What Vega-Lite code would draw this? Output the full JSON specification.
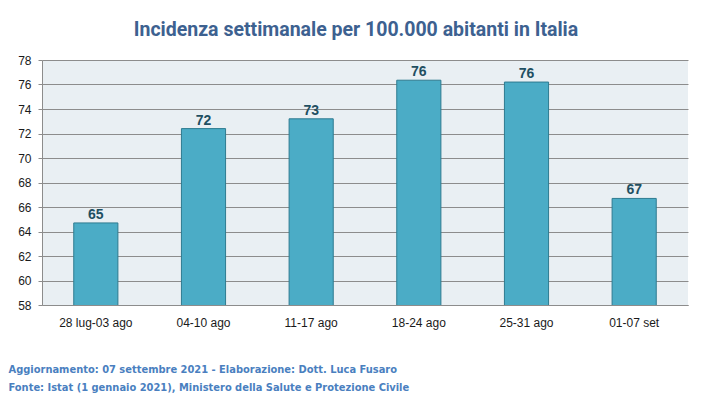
{
  "$schema": "https://vega.github.io/schema/vega-lite/v6.json",
  "width": 646,
  "height": 245,
  "autosize": {"type": "none"},
  "padding": {"left": 42, "top": 60, "right": 23, "bottom": 93},
  "background": "#ffffff",
  "title": {
    "text": "Incidenza settimanale per 100.000 abitanti in Italia",
    "font": "Roboto",
    "fontSize": 19.5,
    "fontWeight": "bold",
    "color": "#3d6190",
    "anchor": "middle",
    "offset": 14,
    "dx": -9
  },
  "data": {
    "values": [
      {"settimana": "28 lug-03 ago", "incidenza": 64.7},
      {"settimana": "04-10 ago", "incidenza": 72.4},
      {"settimana": "11-17 ago", "incidenza": 73.2},
      {"settimana": "18-24 ago", "incidenza": 76.35},
      {"settimana": "25-31 ago", "incidenza": 76.2},
      {"settimana": "01-07 set", "incidenza": 66.7}
    ]
  },
  "encoding": {
    "x": {
      "field": "settimana",
      "type": "nominal",
      "sort": null,
      "scale": {"paddingInner": 0.59, "paddingOuter": 0.295},
      "axis": {
        "title": ["Aggiornamento: 07 settembre 2021 - Elaborazione: Dott. Luca Fusaro", "Fonte: Istat (1 gennaio 2021), Ministero della Salute e Protezione Civile"],
        "titleFont": "DejaVu Sans Condensed, Roboto",
        "titleFontSize": 11,
        "titleFontWeight": "bold",
        "titleColor": "#4a7fbf",
        "titleAnchor": "start",
        "titleAlign": "left",
        "titleBaseline": "alphabetic",
        "titleX": -34,
        "titleY": 67,
        "titleLineHeight": 18,
        "labelAngle": 0,
        "labelFont": "Liberation Sans",
        "labelFontSize": 12,
        "labelColor": "#1a1a1a",
        "labelPadding": 12,
        "ticks": false,
        "domainColor": "#8c8c8c",
        "grid": false
      }
    },
    "y": {
      "field": "incidenza",
      "type": "quantitative",
      "scale": {"domain": [58, 78], "nice": false, "zero": false},
      "axis": {
        "title": null,
        "values": [58, 60, 62, 64, 66, 68, 70, 72, 74, 76, 78],
        "labelFont": "Liberation Sans",
        "labelFontSize": 12,
        "labelColor": "#1a1a1a",
        "labelPadding": 7,
        "tickSize": 4,
        "tickColor": "#8c8c8c",
        "domainColor": "#8c8c8c",
        "gridColor": "#8c8c8c",
        "gridOpacity": 1
      }
    }
  },
  "layer": [
    {
      "mark": {"type": "bar", "clip": true, "color": "#4bacc6", "stroke": "#2e7b90", "strokeWidth": 1}
    },
    {
      "mark": {"type": "text", "dy": -8, "font": "Liberation Sans", "fontSize": 14, "fontWeight": "bold", "color": "#1f4f62"},
      "encoding": {"text": {"field": "incidenza", "type": "quantitative", "format": ".0f"}}
    }
  ],
  "config": {
    "view": {"stroke": null, "fill": "#e9eff3"}
  }
}
